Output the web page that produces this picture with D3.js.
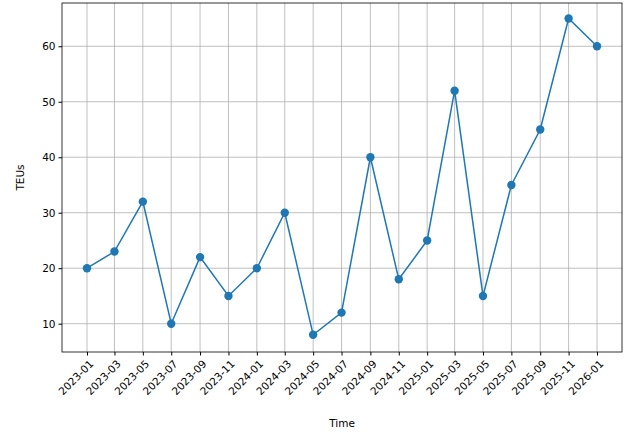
<!DOCTYPE html>
<html><head><meta charset="utf-8">
<script src="https://cdn.jsdelivr.net/npm/d3@7"></script>
<style>body{margin:0;background:#fff}text{font-family:"DejaVu Sans",sans-serif}</style>
</head><body><svg id="c" width="640" height="446"></svg>
<script>
const MONTHS = ['2023-01','2023-03','2023-05','2023-07','2023-09','2023-11','2024-01','2024-03','2024-05','2024-07','2024-09','2024-11','2025-01','2025-03','2025-05','2025-07','2025-09','2025-11','2026-01']
const TEUS = [20,23,32,10,22,15,20,30,8,12,40,18,25,52,15,35,45,65,60]
const Y_TICKS = [10,20,30,40,50,60]

const parse = d3.timeParse('%Y-%m')
const data = MONTHS.map((m, i) => ({ date: parse(m), v: TEUS[i] }))
const L = 62, R = 622, T = 3, B = 352
const svg = d3.select('#c')

const d0 = data[0].date, d1 = data[data.length - 1].date
const x = d3.scaleTime().domain([d0, d1]).range([87, 597])
const y = d3.scaleLinear().domain([4.9, 67.8]).range([B, T])

const g = svg.append('g')
// grid
g.selectAll('.gx').data(data).join('line')
  .attr('x1', d => x(d.date)).attr('x2', d => x(d.date)).attr('y1', T).attr('y2', B)
  .attr('stroke', '#b0b0b0').attr('stroke-width', 0.8)
g.selectAll('.gy').data(Y_TICKS).join('line')
  .attr('x1', L).attr('x2', R).attr('y1', d => y(d)).attr('y2', d => y(d))
  .attr('stroke', '#b0b0b0').attr('stroke-width', 0.8)

// axes
const xa = svg.append('g').attr('transform', `translate(0,${B})`)
  .call(d3.axisBottom(x).tickValues(data.map(d => d.date)).tickFormat(d3.timeFormat('%Y-%m')).tickSizeOuter(0).tickSize(3.5))
xa.select('.domain').remove()
xa.selectAll('text').attr('font-size', 10.5).attr('fill', '#000')
  .attr('x', 0).attr('y', 0).attr('dy', '0.35em')
  .attr('text-anchor', 'end')
  .attr('transform', 'translate(4,10) rotate(-45)')
const ya = svg.append('g').attr('transform', `translate(${L},0)`)
  .call(d3.axisLeft(y).tickValues(Y_TICKS).tickSizeOuter(0).tickSize(3.5))
ya.select('.domain').remove()
ya.selectAll('text').attr('font-size', 10.5).attr('fill', '#000')

svg.append('rect').attr('x', L).attr('y', T).attr('width', R - L).attr('height', B - T)
  .attr('fill', 'none').attr('stroke', '#000').attr('stroke-width', 0.8)

// line + markers
svg.append('path').datum(data)
  .attr('d', d3.line().x(d => x(d.date)).y(d => y(d.v)))
  .attr('fill', 'none').attr('stroke', '#1f77b4').attr('stroke-width', 1.5)
svg.selectAll('.pt').data(data).join('circle')
  .attr('cx', d => x(d.date)).attr('cy', d => y(d.v)).attr('r', 4.2).attr('fill', '#1f77b4')

svg.append('text').attr('x', (L + R) / 2).attr('y', 427).attr('text-anchor', 'middle').attr('font-size', 10.5).text('Time')
svg.append('text').attr('transform', `translate(24,${(T + B) / 2}) rotate(-90)`).attr('text-anchor', 'middle').attr('font-size', 10.5).text('TEUs')
</script></body></html>
